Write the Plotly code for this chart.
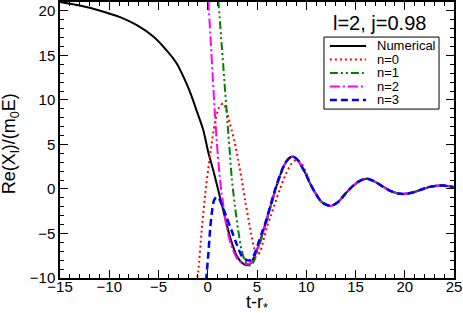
import plotly.graph_objects as go

# Numerical waveform (early part + shared ringdown tail)
num_t_early = [-15, -13, -11, -8.9, -7.2, -5.5, -4.2, -3.15, -2.3, -1.7, -1.13, -0.45, 0.06, 0.56, 0.9,
               1.24, 1.75, 2.26, 2.94, 3.6, 4.05, 4.4, 4.8, 5.3, 5.8, 6.3, 6.8, 7.3, 7.8, 8.2, 8.65]
num_v_early = [21.0, 20.6, 20.05, 19.3, 18.4, 17.1, 15.6, 14.1, 12.2, 10.6, 8.8, 6.6, 4.1, 2.1, 0.6,
               -0.9, -3.2, -5.4, -7.5, -8.4, -8.55, -8.3, -7.4, -5.9, -4.1, -2.2, -0.3, 1.4, 2.75, 3.4, 3.65]
tail_t = [9.1, 9.5, 9.9, 10.4, 11.0, 11.6, 12.45, 13.2, 14.0, 14.8, 15.5, 16.2, 17.0, 17.8, 18.6,
          19.3, 20.0, 20.8, 21.6, 22.4, 23.2, 23.9, 24.5, 25.0]
tail_v = [3.3, 2.6, 1.8, 0.6, -0.6, -1.5, -1.9, -1.5, -0.5, 0.4, 0.95, 1.15, 0.8, 0.25, -0.25,
          -0.5, -0.55, -0.4, -0.1, 0.2, 0.35, 0.38, 0.3, 0.2]

# n=0
n0_t_early = [-1.15, -0.96, -0.62, -0.18, 0.3, 0.74, 1.17, 1.58, 1.85, 2.26, 2.7, 3.1, 3.44, 3.8,
              4.1, 4.4, 4.7, 5.0, 5.3, 5.6, 6.0, 6.4, 6.8, 7.3, 7.9, 8.5, 9.0, 9.4, 9.9]
n0_v_early = [-10.5, -9.2, -4.7, 0.2, 4.3, 7.5, 9.2, 9.6, 9.0, 7.3, 5.4, 3.2, 1.1, -1.3,
              -3.2, -5.0, -6.6, -7.4, -7.1, -6.0, -4.3, -3.0, -1.7, -0.1, 1.6, 2.85, 3.25, 3.0, 2.1]
# n=1
n1_t_early = [1.07, 1.24, 1.4, 1.58, 1.75, 1.92, 2.09, 2.26, 2.43, 2.77, 3.1, 3.44, 3.75, 4.05,
              4.35, 4.7, 5.1, 5.5, 6.0, 6.5, 6.8, 7.3, 7.8, 8.2, 8.65]
n1_v_early = [21.2, 18.8, 16.4, 13.8, 11.2, 8.7, 6.2, 3.8, 1.3, -2.0, -4.7, -6.9, -8.0, -8.5,
              -8.6, -8.1, -6.8, -5.4, -3.6, -1.6, -0.4, 1.3, 2.7, 3.4, 3.65]
# n=2
n2_t_early = [0.06, 0.3, 0.5, 0.7, 0.9, 1.1, 1.3, 1.6, 1.92, 2.43, 3.1, 3.8,
              4.3, 4.8, 5.3, 5.8, 6.3, 6.8, 7.3, 7.8, 8.2, 8.65]
n2_v_early = [21.2, 16.6, 12.7, 8.9, 5.6, 2.8, 0.5, -2.0, -4.3, -6.5, -8.0, -8.4,
              -8.35, -7.4, -5.9, -4.1, -2.2, -0.3, 1.4, 2.75, 3.4, 3.65]
# n=3
n3_t_early = [-0.17, -0.11, 0.06, 0.23, 0.4, 0.63, 0.9, 1.15, 1.4, 1.92, 2.43, 2.94, 3.44, 3.95,
              4.3, 4.7, 5.1, 5.5, 5.9, 6.3, 6.8, 7.3, 7.8, 8.2, 8.65]
n3_v_early = [-10.3, -9.5, -7.3, -4.7, -2.8, -1.3, -0.9, -1.1, -1.7, -3.2, -4.7, -6.2, -7.5, -8.0,
              -8.0, -7.4, -6.2, -4.9, -3.6, -2.1, -0.2, 1.45, 2.8, 3.4, 3.65]

series_names = ["Numerical", "n=0", "n=1", "n=2", "n=3"]
series_colors = ["black", "#ff0000", "#008000", "#ff00ff", "#0000ff"]
series_dash = ["solid", "2px,3px", "8px,3px,2px,3px,2px,3px", "10px,3px,2px,3px", "7px,4px"]
series_width = [2, 2, 2, 2, 2.5]

n0_tail_t = [t for t in tail_t if t > 9.9]
n0_tail_v = [v for t, v in zip(tail_t, tail_v) if t > 9.9]

xs = [num_t_early + tail_t, n0_t_early + n0_tail_t, n1_t_early + tail_t,
      n2_t_early + tail_t, n3_t_early + tail_t]
ys = [num_v_early + tail_v, n0_v_early + n0_tail_v, n1_v_early + tail_v,
      n2_v_early + tail_v, n3_v_early + tail_v]

FONT = "Arial, 'Liberation Sans', Helvetica, sans-serif"

fig = go.Figure()
for name, c, d, w, x, y in zip(series_names, series_colors, series_dash, series_width, xs, ys):
    fig.add_trace(go.Scatter(x=x, y=y, mode="lines", name=name, showlegend=False,
                             line=dict(color=c, dash=d, width=w, shape="spline", smoothing=0.8)))

axis_common = dict(showgrid=False, zeroline=False, showline=True, linecolor="black", linewidth=1.5,
                   mirror="allticks", ticks="inside", ticklen=8, tickwidth=1.2, tickcolor="black",
                   automargin=False, tickfont=dict(family=FONT, size=15, color="black"))
fig.update_xaxes(range=[-15, 25], dtick=5, tick0=0, ticklabelstandoff=-6,
                 minor=dict(dtick=1, ticks="inside", ticklen=4, tickcolor="black", tickwidth=1),
                 **axis_common)
fig.update_yaxes(range=[-10, 21], dtick=5, tick0=0,
                 minor=dict(dtick=1, ticks="inside", ticklen=4, tickcolor="black", tickwidth=1),
                 **axis_common)

# Manual legend (compact, like the reference)
leg_x0, leg_x1, leg_y0, leg_y1 = 0.670, 0.962, 0.612, 0.873
shapes = [dict(type="rect", xref="paper", yref="paper", x0=leg_x0, x1=leg_x1, y0=leg_y0, y1=leg_y1,
               line=dict(color="black", width=1), fillcolor="white", layer="above")]
annotations = []
entry_y = [0.841, 0.792, 0.743, 0.694, 0.645]
for name, c, d, w, yy in zip(series_names, series_colors, series_dash, series_width, entry_y):
    shapes.append(dict(type="line", xref="paper", yref="paper", x0=0.685, x1=0.777, y0=yy, y1=yy,
                       line=dict(color=c, dash=d, width=w), layer="above"))
    annotations.append(dict(x=0.800, y=yy, xref="paper", yref="paper", text=name, showarrow=False,
                            xanchor="left", yanchor="middle", font=dict(family=FONT, size=13, color="black")))
annotations.append(dict(x=0.812, y=0.924, xref="paper", yref="paper", text="l=2, j=0.98", showarrow=False,
                        xanchor="center", yanchor="middle", font=dict(family=FONT, size=20, color="black")))
# Axis titles
annotations.append(dict(x=0.5, y=0, xref="paper", yref="paper", text="t-r<sub>*</sub>", showarrow=False,
                        xanchor="center", yanchor="middle", yshift=-25,
                        font=dict(family=FONT, size=18, color="black")))
annotations.append(dict(x=0, y=0.485, xref="paper", yref="paper", text="Re(X<sub>l</sub>)/(m<sub>0</sub>E)",
                        showarrow=False, textangle=-90, xanchor="center", yanchor="middle", xshift=-50,
                        font=dict(family=FONT, size=18, color="black")))

fig.update_layout(width=463, height=313, margin=dict(l=60, r=9, t=2, b=35),
                  paper_bgcolor="white", plot_bgcolor="white",
                  shapes=shapes, annotations=annotations)
fig.write_html("out.html", config={"displayModeBar": False},
               post_script="document.body.style.margin='0';document.body.style.overflow='hidden';")
